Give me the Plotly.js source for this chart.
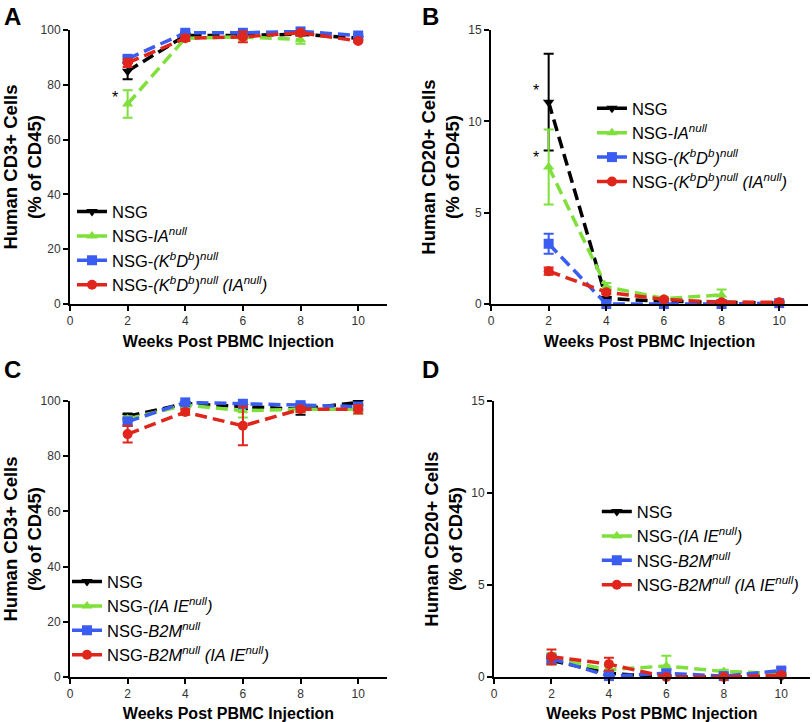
<!DOCTYPE html>
<html>
<head>
<meta charset="utf-8">
<script src="https://cdn.plot.ly/plotly-3.0.1.min.js"></script>
<style>
  html, body { margin: 0; padding: 0; background: #fff; }
  #graph { width: 812px; height: 722px; }
</style>
</head>
<body>
<div id="graph"></div>
<script>
// weeks after PBMC injection
var weeks = [2, 4, 6, 8, 10];

// legend names
var namesAB = ['NSG', 'NSG-<i>IA<sup>null</sup></i>', 'NSG-<i>(K<sup>b</sup>D<sup>b</sup>)<sup>null</sup></i>',
    'NSG-<i>(K<sup>b</sup>D<sup>b</sup>)<sup>null</sup> (IA<sup>null</sup>)</i>'];
var namesCD = ['NSG', 'NSG-<i>(IA IE<sup>null</sup>)</i>', 'NSG-<i>B2M<sup>null</sup></i>',
    'NSG-<i>B2M<sup>null</sup> (IA IE<sup>null</sup>)</i>'];

// panel A: human CD3+ (% of CD45)
var aNsg = [85, 98, 98, 98.5, 97];
var aNsgErr = [3, 1, 1, 0.5, 0.5];
var aIa = [73, 97, 97.5, 96.5, null];
var aIaErr = [5, 1, 1, 1.5, 0];
var aKbDb = [89.5, 99, 99, 99.5, 98];
var aKbDbErr = [1, 0.5, 0.5, 0.5, 0.5];
var aKbDbIa = [88, 97, 97.5, 99, 96];
var aKbDbIaErr = [1.5, 1, 2, 1, 0.5];

// panel B: human CD20+ (% of CD45)
var bNsg = [11.05, 0.3, 0.15, 0.1, 0.05];
var bNsgErr = [2.65, 0.1, 0.1, 0.05, 0.05];
var bIa = [7.5, 0.95, 0.3, 0.5, null];
var bIaErr = [2.05, 0.2, 0.1, 0.3, 0];
var bKbDb = [3.3, 0.0, 0.0, 0.0, 0.05];
var bKbDbErr = [0.55, 0.05, 0.05, 0.05, 0.05];
var bKbDbIa = [1.8, 0.65, 0.25, 0.1, 0.1];
var bKbDbIaErr = [0.2, 0.1, 0.05, 0.05, 0.05];

// panel C: human CD3+ (% of CD45)
var cNsg = [94.5, 99, 98, 97, 99.5];
var cNsgErr = [1, 0.5, 1, 2, 1];
var cIaIe = [93.5, 98.5, 96.5, 97, 97];
var cIaIeErr = [1, 1, 2.5, 1, 1.5];
var cB2m = [92.5, 99.5, 99, 98.5, 98];
var cB2mErr = [1.5, 0.5, 1, 0.5, 1];
var cB2mIaIe = [88, 96, 91, 97, 97];
var cB2mIaIeErr = [3, 1, 7, 1, 1.5];

// panel D: human CD20+ (% of CD45)
var dNsg = [0.9, 0.2, 0.0, 0.0, 0.0];
var dNsgErr = [0.2, 0.1, 0.05, 0.05, 0.05];
var dIaIe = [1.0, 0.4, 0.6, 0.3, 0.2];
var dIaIeErr = [0.3, 0.2, 0.55, 0.1, 0.1];
var dB2m = [1.0, 0.05, 0.2, 0.05, 0.35];
var dB2mErr = [0.2, 0.1, 0.2, 0.1, 0.15];
var dB2mIaIe = [1.1, 0.7, 0.0, 0.0, 0.1];
var dB2mIaIeErr = [0.4, 0.35, 0.05, 0.05, 0.1];

var colors = ['#000000', '#7fe03c', '#3b5cf0', '#e0261c'];
var symbols = ['triangle-down', 'triangle-up', 'square', 'circle'];
var font = 'Liberation Sans, Arial, sans-serif';

function series(i, y, err, name, n) {
    var sfx = n === 1 ? '' : String(n);
    return {
        type: 'scatter', mode: 'lines+markers', x: weeks, y: y, name: name,
        xaxis: 'x' + sfx, yaxis: 'y' + sfx, legend: 'legend' + sfx,
        cliponaxis: false, connectgaps: false,
        line: { color: colors[i], width: 3.5, dash: '12px,6px' },
        marker: { color: colors[i], symbol: symbols[i], size: 10 },
        error_y: { type: 'data', array: err, visible: true, color: colors[i], thickness: 2, width: 5 }
    };
}

var data = [
    series(0, aNsg, aNsgErr, namesAB[0], 1),
    series(1, aIa, aIaErr, namesAB[1], 1),
    series(2, aKbDb, aKbDbErr, namesAB[2], 1),
    series(3, aKbDbIa, aKbDbIaErr, namesAB[3], 1),
    series(0, bNsg, bNsgErr, namesAB[0], 2),
    series(1, bIa, bIaErr, namesAB[1], 2),
    series(2, bKbDb, bKbDbErr, namesAB[2], 2),
    series(3, bKbDbIa, bKbDbIaErr, namesAB[3], 2),
    series(0, cNsg, cNsgErr, namesCD[0], 3),
    series(1, cIaIe, cIaIeErr, namesCD[1], 3),
    series(2, cB2m, cB2mErr, namesCD[2], 3),
    series(3, cB2mIaIe, cB2mIaIeErr, namesCD[3], 3),
    series(0, dNsg, dNsgErr, namesCD[0], 4),
    series(1, dIaIe, dIaIeErr, namesCD[1], 4),
    series(2, dB2m, dB2mErr, namesCD[2], 4),
    series(3, dB2mIaIe, dB2mIaIeErr, namesCD[3], 4)
];

function xax(dom, anchor) {
    return {
        domain: dom, anchor: anchor, range: [0, 11], tick0: 0, dtick: 2,
        showline: true, linecolor: '#000', linewidth: 2, ticks: 'outside', ticklen: 5, tickwidth: 2,
        tickcolor: '#000', showgrid: false, zeroline: false,
        tickfont: { size: 12, color: '#333', family: font },
        title: { text: '<b>Weeks Post PBMC Injection</b>', font: { size: 16, color: '#000', family: font }, standoff: 8 }
    };
}
function yax(dom, anchor, top, step, label) {
    return {
        domain: dom, anchor: anchor, range: [0, top], tick0: 0, dtick: step,
        showline: true, linecolor: '#000', linewidth: 2, ticks: 'outside', ticklen: 5, tickwidth: 2,
        tickcolor: '#000', showgrid: false, zeroline: false,
        tickfont: { size: 12, color: '#333', family: font },
        title: { text: '<b>' + label + '<br>(% of CD45)</b>', font: { size: 18.5, color: '#000', family: font }, standoff: 4 }
    };
}
function leg(x, y) {
    return { x: x, y: y, xanchor: 'left', yanchor: 'top', bgcolor: 'rgba(0,0,0,0)', itemwidth: 30,
        tracegroupgap: 0, font: { size: 16.5, color: '#000', family: font } };
}

var layout = {
    width: 812, height: 722,
    margin: { l: 0, r: 0, t: 0, b: 0 },
    paper_bgcolor: '#fff', plot_bgcolor: '#fff',
    font: { family: font },
    xaxis: xax([0.0862, 0.4766], 'y'),
    yaxis: yax([0.5789, 0.9584], 'x', 100, 20, 'Human CD3+ Cells'),
    xaxis2: xax([0.6047, 0.9951], 'y2'),
    yaxis2: yax([0.5789, 0.9584], 'x2', 15, 5, 'Human CD20+ Cells'),
    xaxis3: xax([0.0862, 0.4766], 'y3'),
    yaxis3: yax([0.0623, 0.4446], 'x3', 100, 20, 'Human CD3+ Cells'),
    xaxis4: xax([0.6084, 0.9975], 'y4'),
    yaxis4: yax([0.0623, 0.4446], 'x4', 15, 5, 'Human CD20+ Cells'),
    legend: leg(0.0887, 0.731),
    legend2: leg(0.729, 0.874),
    legend3: leg(0.0825, 0.2185),
    legend4: leg(0.735, 0.3155),
    annotations: [
        { text: '<b>A</b>', xref: 'paper', yref: 'paper', x: 0.002, y: 0.998, xanchor: 'left', yanchor: 'top', showarrow: false, font: { size: 24, color: '#000' } },
        { text: '<b>B</b>', xref: 'paper', yref: 'paper', x: 0.517, y: 0.998, xanchor: 'left', yanchor: 'top', showarrow: false, font: { size: 24, color: '#000' } },
        { text: '<b>C</b>', xref: 'paper', yref: 'paper', x: 0.002, y: 0.51, xanchor: 'left', yanchor: 'top', showarrow: false, font: { size: 24, color: '#000' } },
        { text: '<b>D</b>', xref: 'paper', yref: 'paper', x: 0.517, y: 0.51, xanchor: 'left', yanchor: 'top', showarrow: false, font: { size: 24, color: '#000' } },
        { text: '*', xref: 'x', yref: 'y', x: 1.55, y: 75.5, showarrow: false, font: { size: 16, color: '#000' } },
        { text: '*', xref: 'x2', yref: 'y2', x: 1.56, y: 11.7, showarrow: false, font: { size: 16, color: '#000' } },
        { text: '*', xref: 'x2', yref: 'y2', x: 1.56, y: 8.0, showarrow: false, font: { size: 16, color: '#000' } }
    ]
};

Plotly.newPlot('graph', data, layout, { displayModeBar: false, staticPlot: true });
</script>
</body>
</html>
